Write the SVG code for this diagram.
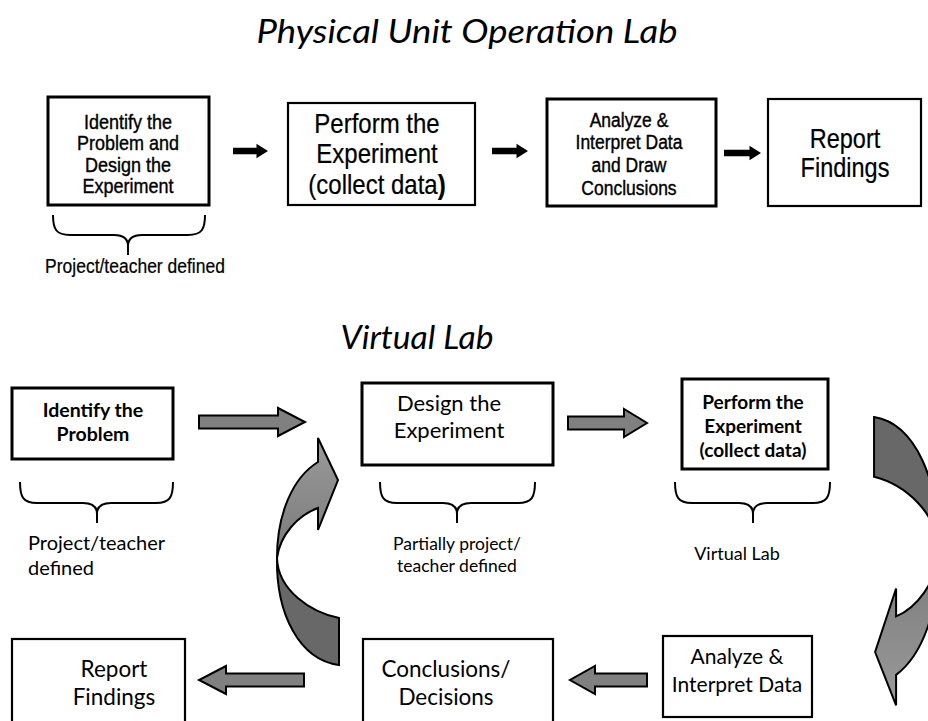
<svg xmlns="http://www.w3.org/2000/svg" xmlns:xlink="http://www.w3.org/1999/xlink" width="928" height="721" viewBox="0 0 928 721">
  <style>
    .box { fill: #ffffff; stroke: #000000; }
    .thick { stroke-width: 3; }
    .thin { stroke-width: 2.2; }
    .ta { font-family: "Liberation Sans", Arial, sans-serif; fill: #000000; stroke: #000000; stroke-width: 0.35; text-anchor: middle; }
    .tc { font-family: Lato, "Open Sans", sans-serif; fill: #000000; text-anchor: middle; }
    .title { font-family: Lato, "Open Sans", sans-serif; font-style: italic; font-size: 32px; fill: #000000; text-anchor: middle; }
    .brace { fill: none; stroke: #000000; stroke-width: 2; stroke-linejoin: round; }
    .blk { fill: #000000; }
    .gray { fill: #808080; stroke: #000000; stroke-width: 2; stroke-linejoin: miter; }
    .curl-dark { fill: #686868; stroke: #000000; stroke-width: 2; vector-effect: non-scaling-stroke; stroke-linejoin: miter; }
    .curl-light { fill: url(#curlShade); stroke: #000000; stroke-width: 2; vector-effect: non-scaling-stroke; stroke-linejoin: miter; }
  </style>
  <defs>
    <linearGradient id="curlShade" x1="0" y1="0" x2="0" y2="1">
      <stop offset="0" stop-color="#9a9a9a"/>
      <stop offset="1" stop-color="#7a7a7a"/>
    </linearGradient>
    <!-- curved return arrow: dark tail band behind, lighter head band in front -->
    <g id="curl">
      <path class="curl-dark" d="M339,618 L339,665 C300,660 276,615 277,558 C278,590 310,612 339,618 Z"/>
      <path class="curl-light" d="M277,558 C277,515 292,478 318,462 L318,438 L338,480 L318,530 L318,508 C298,515 280,535 277,558 Z"/>
    </g>
  </defs>

  <rect width="928" height="721" fill="#ffffff"/>

  <!-- section titles -->
  <text class="title" x="467" y="43" textLength="421" lengthAdjust="spacingAndGlyphs">Physical Unit Operation Lab</text>
  <text class="title" x="417" y="349" textLength="153" lengthAdjust="spacingAndGlyphs">Virtual Lab</text>

  <!-- ===== physical lab row ===== -->
  <g id="p-identify">
    <rect class="box thick" x="48" y="97" width="161" height="108"/>
    <g class="ta" font-size="18">
      <text x="128" y="129" transform="translate(0,129) scale(1,1.15) translate(0,-129)">Identify the</text>
      <text x="128" y="150.5" transform="translate(0,150.5) scale(1,1.15) translate(0,-150.5)">Problem and</text>
      <text x="128" y="172" transform="translate(0,172) scale(1,1.15) translate(0,-172)">Design the</text>
      <text x="128" y="193.5" transform="translate(0,193.5) scale(1,1.15) translate(0,-193.5)">Experiment</text>
    </g>
  </g>

  <g id="p-perform">
    <rect class="box thin" x="288" y="103" width="187" height="102"/>
    <g class="ta" font-size="24" style="stroke-width:0.2">
      <text x="377" y="133" transform="translate(0,133) scale(1,1.15) translate(0,-133)">Perform the</text>
      <text x="377" y="163.5" transform="translate(0,163.5) scale(1,1.15) translate(0,-163.5)">Experiment</text>
      <text x="377" y="194" transform="translate(0,194) scale(1,1.15) translate(0,-194)">(collect data<tspan font-weight="bold">)</tspan></text>
    </g>
  </g>

  <g id="p-analyze">
    <rect class="box thick" x="547" y="99" width="169" height="107"/>
    <g class="ta" font-size="17.5">
      <text x="629" y="127" transform="translate(0,127) scale(1,1.15) translate(0,-127)">Analyze &amp;</text>
      <text x="629" y="149.5" transform="translate(0,149.5) scale(1,1.15) translate(0,-149.5)">Interpret Data</text>
      <text x="629" y="172.5" transform="translate(0,172.5) scale(1,1.15) translate(0,-172.5)">and Draw</text>
      <text x="629" y="195" transform="translate(0,195) scale(1,1.15) translate(0,-195)">Conclusions</text>
    </g>
  </g>

  <g id="p-report">
    <rect class="box thin" x="768" y="99" width="153" height="107"/>
    <g class="ta" font-size="23.5" style="stroke-width:0.2">
      <text x="845" y="148" transform="translate(0,148) scale(1,1.15) translate(0,-148)">Report</text>
      <text x="845" y="177" transform="translate(0,177) scale(1,1.15) translate(0,-177)">Findings</text>
    </g>
  </g>

  <g id="p-scope">
    <path class="brace" d="M53,215 C53,229 56,235 70,235 L114,235 C123,235 128,239 128,246 L128,255 M128,246 C128,239 133,235 142,235 L188,235 C202,235 205,229 205,215"/>
    <text class="ta" font-size="17.5" x="135" y="273" style="stroke-width:0.2" transform="translate(0,273) scale(1,1.15) translate(0,-273)">Project/teacher defined</text>
  </g>

  <!-- ===== virtual lab cycle ===== -->
  <g id="v-identify">
    <rect class="box thick" x="12" y="388" width="161" height="71"/>
    <g class="tc" font-size="19.5" font-weight="bold">
      <text x="93" y="417">Identify the</text>
      <text x="93" y="441">Problem</text>
    </g>
  </g>

  <g id="v-design">
    <rect class="box thick" x="362" y="383" width="191" height="82"/>
    <g class="tc" font-size="22">
      <text x="449" y="411">Design the</text>
      <text x="449" y="438">Experiment</text>
    </g>
  </g>

  <g id="v-perform">
    <rect class="box thick" x="682" y="379" width="146" height="90"/>
    <g class="tc" font-size="19" font-weight="bold">
      <text x="753" y="409">Perform the</text>
      <text x="753" y="433">Experiment</text>
      <text x="753" y="457">(collect data)</text>
    </g>
  </g>

  <g id="v-analyze">
    <rect class="box thin" x="663" y="636" width="149" height="81"/>
    <g class="tc" font-size="21">
      <text x="737" y="664">Analyze &amp;</text>
      <text x="737" y="692">Interpret Data</text>
    </g>
  </g>

  <g id="v-conclude">
    <rect class="box thin" x="363" y="639" width="190" height="90"/>
    <g class="tc" font-size="22.5">
      <text x="446" y="677">Conclusions/</text>
      <text x="446" y="705">Decisions</text>
    </g>
  </g>

  <g id="v-report">
    <rect class="box thin" x="12" y="639" width="173" height="90"/>
    <g class="tc" font-size="22.5">
      <text x="114" y="677">Report</text>
      <text x="114" y="705">Findings</text>
    </g>
  </g>

  <g id="v-scope-identify">
    <path class="brace" d="M20,482 C20,497 23,503 37,503 L83,503 C92,503 97,507 97,514 L97,523 M97,514 C97,507 102,503 111,503 L156,503 C170,503 173,497 173,482"/>
    <g class="tc" font-size="20" style="text-anchor:start">
      <text x="28" y="550">Project/teacher</text>
      <text x="28" y="575">defined</text>
    </g>
  </g>

  <g id="v-scope-design">
    <path class="brace" d="M380,482 C380,497 383,503 397,503 L443,503 C452,503 457,507 457,514 L457,523 M457,514 C457,507 462,503 471,503 L518,503 C532,503 535,497 535,482"/>
    <g class="tc" font-size="17.5">
      <text x="457" y="550">Partially project/</text>
      <text x="457" y="572">teacher defined</text>
    </g>
  </g>

  <g id="v-scope-perform">
    <path class="brace" d="M675,482 C675,497 678,503 692,503 L739,503 C748,503 753,507 753,514 L753,523 M753,514 C753,507 758,503 767,503 L813,503 C827,503 830,497 830,482"/>
    <text class="tc" font-size="18" x="737" y="560">Virtual Lab</text>
  </g>

  <!-- ===== connectors ===== -->
  <g id="connectors">
    <!-- physical lab: solid black block arrows -->
    <path class="blk" d="M233,147.7 L256.5,147.7 L256.5,143.7 L268,151 L256.5,158.3 L256.5,154.3 L233,154.3 Z"/>
    <path class="blk" d="M492,147.7 L516.5,147.7 L516.5,143.7 L528,151 L516.5,158.3 L516.5,154.3 L492,154.3 Z"/>
    <path class="blk" d="M724,149.7 L749.5,149.7 L749.5,145.7 L761,153 L749.5,160.3 L749.5,156.3 L724,156.3 Z"/>

    <!-- virtual lab: grey block arrows -->
    <path class="gray" d="M199,415.5 L278,415.5 L278,408 L305,422 L278,436 L278,428.5 L199,428.5 Z"/>
    <path class="gray" d="M568,416.5 L624,416.5 L624,409 L647,423 L624,437 L624,429.5 L568,429.5 Z"/>
    <path class="gray" d="M304,673.5 L226,673.5 L226,666 L199,680 L226,694 L226,686.5 L304,686.5 Z"/>
    <path class="gray" d="M647,673.5 L595,673.5 L595,666 L570,680 L595,694 L595,686.5 L647,686.5 Z"/>

    <!-- curved returns -->
    <use xlink:href="#curl"/>
    <use xlink:href="#curl" transform="matrix(-1.05,0,0,-1.27,1230,1261.6)"/>
  </g>
</svg>
